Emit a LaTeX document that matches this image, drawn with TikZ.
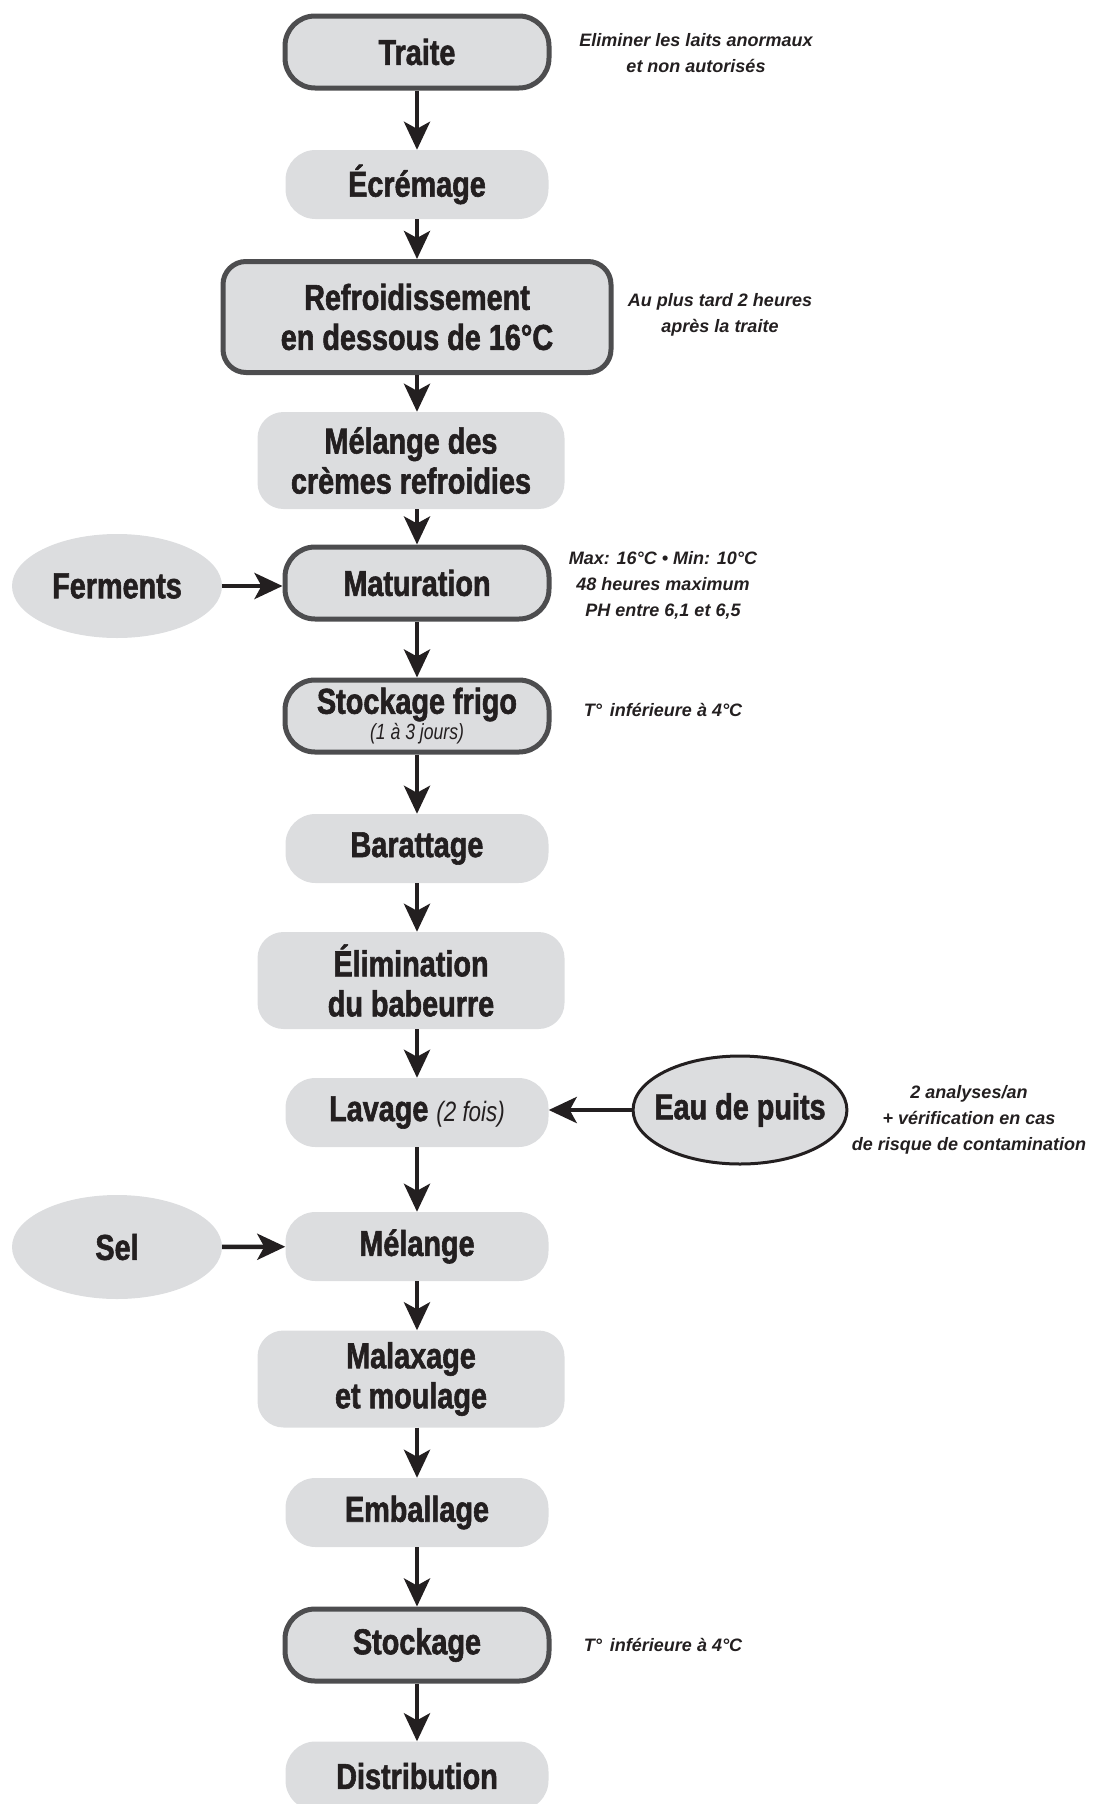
\documentclass[tikz,border=0pt]{standalone}
\usepackage{fontspec}
\setmainfont{Liberation Sans}
\newfontfamily\etapefont{Liberation Sans Bold}[FakeStretch=0.8, FakeBold=1.6]
\newfontfamily\souslabel{Liberation Sans Italic}[FakeStretch=0.8]
\newfontfamily\notefont{Liberation Sans Bold Italic}
\usetikzlibrary{shapes.geometric,arrows.meta}

\definecolor{fond}{HTML}{DCDDDF}
\definecolor{bord}{HTML}{4D4D4F}
\definecolor{encre}{HTML}{231F20}

\tikzset{
  etape/.style={fill=fond, rounded corners=30pt, minimum width=263pt, minimum height=69pt,
    inner sep=0pt, align=center, text=encre, font=\etapefont\fontsize{36}{40}\selectfont},
  etapecadre/.style={etape, draw=bord, line width=5pt, minimum width=264pt, minimum height=72pt},
  etapehaute/.style={etape, rounded corners=26pt, minimum width=307pt, minimum height=97pt},
  intrant/.style={ellipse, fill=fond, inner sep=0pt, minimum width=210pt, minimum height=104pt,
    text=encre, font=\etapefont\fontsize{36}{40}\selectfont},
  note/.style={align=center, text=encre, font=\notefont\fontsize{18}{26}\selectfont},
  fleche/.style={-{Stealth[length=28pt,width=26pt,inset=7pt]}, line width=4.5pt, draw=encre}
}

\begin{document}
\begin{tikzpicture}[x=1pt,y=-1pt]
\useasboundingbox (0,0) rectangle (1099,1804);

\node[etapecadre] (traite) at (417,52) {Traite};
\node[etape] (ecremage) at (417,184.5) {Écrémage};
\node[etapecadre, rounded corners=23pt, minimum width=388pt, minimum height=111pt] (refroid) at (417,317)
  {Refroidissement\\en dessous de 16°C};
\node[etapehaute] (melcremes) at (411,460.5) {Mélange des\\crèmes refroidies};
\node[etapecadre] (maturation) at (417,583) {Maturation};
\node[intrant] (ferments) at (117,586) {Ferments};
\node[etapecadre] (frigo) at (417,716)
  {Stockage frigo\\[-14pt]{\souslabel\fontsize{22}{24}\selectfont (1 à 3 jours)}};
\node[etape] (barattage) at (417,848.5) {Barattage};
\node[etapehaute] (babeurre) at (411,980.5) {Élimination\\du babeurre};
\node[etape] (lavage) at (417,1112.5) {Lavage {\souslabel\fontsize{28}{30}\selectfont (2 fois)}};
\node[intrant, draw=encre, line width=3pt, inner xsep=-10pt, minimum width=213pt, minimum height=108pt]
  (puits) at (740,1110) {Eau de puits};
\node[intrant] (sel) at (117,1247) {Sel};
\node[etape] (melange) at (417,1246.5) {Mélange};
\node[etapehaute] (malaxage) at (411,1379) {Malaxage\\et moulage};
\node[etape] (emballage) at (417,1512.5) {Emballage};
\node[etapecadre] (stockage) at (417,1645) {Stockage};
\node[etape] (distrib) at (417,1776) {Distribution};

% remarques
\node[note] (n1) at (696,53) {Eliminer les laits anormaux\\et non autorisés};
\node[note] (n2) at (720,315) {Au plus tard 2 heures\\après la traite};
\node[note] (n3) at (663,585) {Max: 16°C • Min: 10°C\\48 heures maximum\\PH entre 6,1 et 6,5};
\node[note] (n4) at (663,710) {T°\, inférieure à 4°C};
\node[note] (n5) at (969,1120) {2 analyses/an\\+ vérification en cas\\de risque de contamination};
\node[note] (n6) at (663,1645) {T°\, inférieure à 4°C};

\draw[fleche] (traite) -- (ecremage);
\draw[fleche] (ecremage) -- (refroid);
\draw[fleche] (refroid) -- (refroid.south |- melcremes.north);
\draw[fleche] (melcremes.south -| maturation) -- (maturation);
\draw[fleche] (ferments) -- (ferments.east -| maturation.west);
\draw[fleche] (maturation) -- (frigo);
\draw[fleche] (frigo) -- (barattage);
\draw[fleche] (barattage) -- (barattage.south |- babeurre.north);
\draw[fleche] (babeurre.south -| lavage) -- (lavage);
\draw[fleche] (puits) -- (puits.west -| lavage.east);
\draw[fleche] (lavage) -- (melange);
\draw[fleche] (sel) -- (melange);
\draw[fleche] (melange) -- (melange.south |- malaxage.north);
\draw[fleche] (malaxage.south -| emballage) -- (emballage);
\draw[fleche] (emballage) -- (stockage);
\draw[fleche] (stockage) -- (distrib);

\end{tikzpicture}
\end{document}
